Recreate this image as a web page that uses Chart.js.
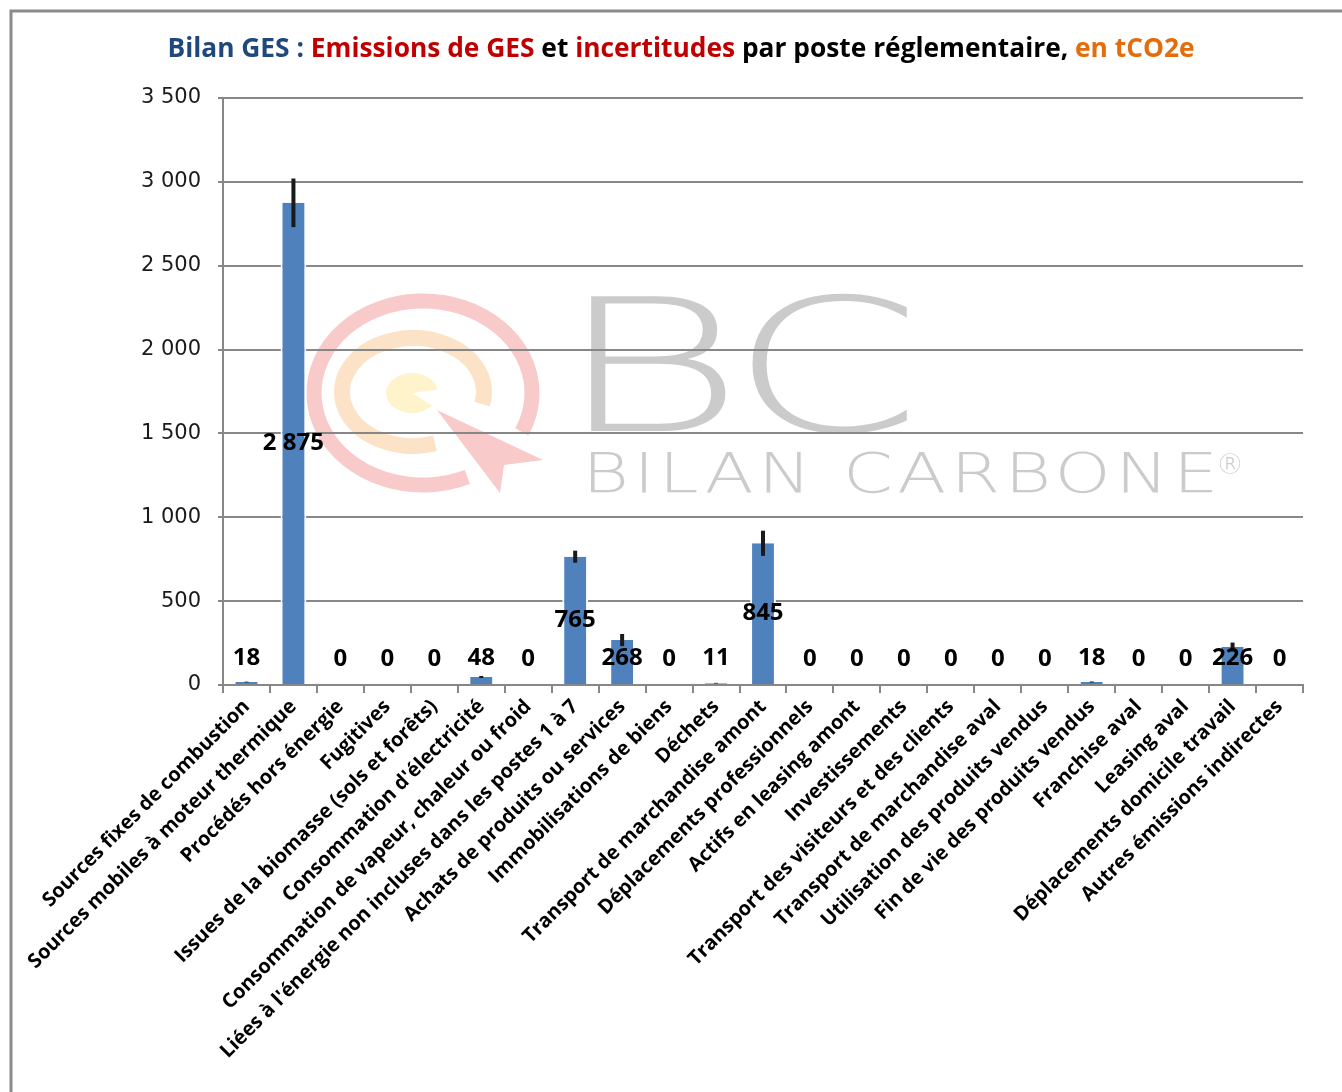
<!DOCTYPE html>
<html>
<head>
<meta charset="utf-8">
<script src="https://cdn.jsdelivr.net/npm/chart.js@4.4.0/dist/chart.umd.min.js"></script>
<style>
  html, body { margin: 0; padding: 0; background: #fff; }
  #wrap { width: 1342px; height: 1092px; position: relative; }
</style>
</head>
<body>
<div id="wrap"><canvas id="ges-chart" width="1342" height="1092"></canvas></div>
<script>
// postes reglementaires
var postes = [
  'Sources fixes de combustion',
  'Sources mobiles à moteur thermique',
  'Procédés hors énergie',
  'Fugitives',
  'Issues de la biomasse (sols et forêts)',
  "Consommation d'électricité",
  'Consommation de vapeur, chaleur ou froid',
  "Liées à l'énergie non incluses dans les postes 1 à 7",
  'Achats de produits ou services',
  'Immobilisations de biens',
  'Déchets',
  'Transport de marchandise amont',
  'Déplacements professionnels',
  'Actifs en leasing amont',
  'Investissements',
  'Transport des visiteurs et des clients',
  'Transport de marchandise aval',
  'Utilisation des produits vendus',
  'Fin de vie des produits vendus',
  'Franchise aval',
  'Leasing aval',
  'Déplacements domicile travail',
  'Autres émissions indirectes'
];
var emissions = [18, 2875, 0, 0, 0, 48, 0, 765, 268, 0, 11, 845, 0, 0, 0, 0, 0, 0, 18, 0, 0, 226, 0];
var incertitudes = [2, 145, 0, 0, 0, 6, 0, 36, 36, 0, 2, 75, 0, 0, 0, 0, 0, 0, 3, 0, 0, 27, 0];
var yTicks = [0, 500, 1000, 1500, 2000, 2500, 3000, 3500];

var titreTextes = ['Bilan GES : ', 'Emissions de GES', ' et ', 'incertitudes', ' par poste réglementaire, ', 'en tCO2e'];
var titreCouleurs = ['#1F497D', '#C00000', '#000000', '#C00000', '#000000', '#E46C0A'];

function fmt(v) {
  return String(v).replace(/\B(?=(\d{3})+(?!\d))/g, ' ');
}

// fond : logo bilan carbone en filigrane
var filigrane = {
  id: 'filigrane',
  beforeDraw: function (chart) {
    var ctx = chart.ctx;
    var d = Math.PI / 180;
    ctx.save();
    ctx.lineCap = 'butt';
    // anneau rouge
    ctx.strokeStyle = '#F8CACA';
    ctx.lineWidth = 15;
    ctx.beginPath();
    ctx.ellipse(423, 393, 109, 92, 0, 66 * d, 385 * d);
    ctx.stroke();
    // anneau orange
    ctx.strokeStyle = '#FCE2C6';
    ctx.lineWidth = 16;
    ctx.beginPath();
    ctx.ellipse(413, 392, 71, 54, 0, 72 * d, 373 * d);
    ctx.stroke();
    // centre jaune
    ctx.fillStyle = '#FFF3CC';
    ctx.beginPath();
    ctx.moveTo(412, 393);
    ctx.ellipse(412, 393, 26, 20, 0, 40 * d, 350 * d);
    ctx.closePath();
    ctx.fill();
    // fleche
    ctx.fillStyle = '#F8CACA';
    ctx.beginPath();
    ctx.moveTo(437, 410);
    ctx.lineTo(543, 460);
    ctx.lineTo(504, 465);
    ctx.lineTo(500, 493);
    ctx.closePath();
    ctx.fill();

    // lettres BC
    ctx.fillStyle = '#CBCBCB';
    ctx.textBaseline = 'alphabetic';
    ctx.textAlign = 'left';
    function fit(txt, left, right, base, font) {
      ctx.font = font;
      var m = ctx.measureText(txt);
      var w = m.actualBoundingBoxLeft + m.actualBoundingBoxRight;
      ctx.save();
      ctx.translate(left, base);
      ctx.scale((right - left) / w, 1);
      ctx.fillText(txt, m.actualBoundingBoxLeft, 0);
      ctx.restore();
    }
    fit('B', 590, 726, 431, "200 185px 'DejaVu Sans'");
    fit('C', 752, 908, 431, "200 185px 'DejaVu Sans'");

    // BILAN CARBONE
    ctx.font = "200 55px 'DejaVu Sans'";
    var txt = 'BILAN CARBONE';
    var sx = 1.3;
    var m = ctx.measureText(txt);
    var w0 = m.actualBoundingBoxLeft + m.actualBoundingBoxRight;
    var sp = (622 / sx - w0) / (txt.length - 1);
    ctx.save();
    ctx.translate(590, 492);
    ctx.scale(sx, 1);
    ctx.letterSpacing = sp + 'px';
    ctx.fillText(txt, m.actualBoundingBoxLeft, 0);
    ctx.restore();
    ctx.font = "200 28px 'DejaVu Sans'";
    ctx.fillText('®', 1216, 474);
    ctx.restore();
  }
};

// barres d'incertitude + etiquettes
var incertitudePlugin = {
  id: 'incertitude',
  afterDatasetsDraw: function (chart) {
    var ctx = chart.ctx;
    var y = chart.scales.y;
    var meta = chart.getDatasetMeta(0);
    ctx.save();
    ctx.strokeStyle = '#1A1A1A';
    ctx.lineWidth = 4;
    meta.data.forEach(function (bar, i) {
      var e = incertitudes[i];
      if (!e) return;
      ctx.beginPath();
      ctx.moveTo(bar.x, y.getPixelForValue(emissions[i] + e));
      ctx.lineTo(bar.x, y.getPixelForValue(emissions[i] - e));
      ctx.stroke();
    });
    ctx.fillStyle = '#000';
    ctx.font = "bold 24px 'Open Sans'";
    ctx.textAlign = 'center';
    ctx.textBaseline = 'middle';
    meta.data.forEach(function (bar, i) {
      var cy = (bar.y + bar.base) / 2;
      cy = Math.min(cy, bar.base - 26);
      ctx.fillText(fmt(emissions[i]), bar.x, cy);
    });
    ctx.restore();
  }
};

// titre multicolore + cadre
var titreCadre = {
  id: 'titreCadre',
  afterDraw: function (chart) {
    var ctx = chart.ctx;
    ctx.save();
    ctx.font = "bold 26px 'Open Sans'";
    ctx.textBaseline = 'alphabetic';
    ctx.textAlign = 'left';
    var total = 0;
    titreTextes.forEach(function (t) { total += ctx.measureText(t).width; });
    var sx = 1027 / total;
    ctx.translate(681 - 1027 / 2, 57);
    ctx.scale(sx, 1);
    var x = 0;
    titreTextes.forEach(function (t, i) {
      ctx.fillStyle = titreCouleurs[i];
      ctx.fillText(t, x, 0);
      x += ctx.measureText(t).width;
    });
    ctx.restore();

    ctx.save();
    ctx.strokeStyle = '#8A8A8A';
    ctx.lineWidth = 3;
    ctx.beginPath();
    ctx.moveTo(11, 1092);
    ctx.lineTo(11, 11);
    ctx.lineTo(1342, 11);
    ctx.stroke();
    ctx.restore();
  }
};

new Chart(document.getElementById('ges-chart'), {
  type: 'bar',
  data: {
    labels: postes,
    datasets: [{
      data: emissions,
      backgroundColor: '#4F81BD',
      borderColor: '#FFFFFF',
      borderWidth: { left: 2, right: 2, top: 0, bottom: 0 },
      barPercentage: 0.55,
      categoryPercentage: 1
    }]
  },
  options: {
    responsive: false,
    animation: false,
    layout: {
      padding: { top: 98, right: 39, left: 0, bottom: 0 }
    },
    plugins: {
      legend: { display: false },
      tooltip: { enabled: false }
    },
    scales: {
      x: {
        offset: true,
        grid: {
          offset: true,
          drawOnChartArea: false,
          color: '#878787',
          lineWidth: 2,
          tickLength: 8
        },
        border: { color: '#878787', width: 2 },
        ticks: {
          autoSkip: false,
          minRotation: 45,
          maxRotation: 45,
          padding: 2,
          color: '#000',
          font: { family: "'Open Sans'", size: 20, weight: '700' }
        },
        afterFit: function (scale) { scale.height = 407; }
      },
      y: {
        min: 0,
        max: 3500,
        afterBuildTicks: function (scale) {
          scale.ticks = yTicks.map(function (v) { return { value: v }; });
        },
        ticks: {
          padding: 17,
          color: '#1A1A1A',
          font: { family: "'DejaVu Sans'", size: 21 },
          callback: function (v) { return fmt(v); }
        },
        grid: { color: '#878787', lineWidth: 2, tickLength: 5 },
        border: { color: '#878787', width: 2 },
        afterFit: function (scale) { scale.width = 223; }
      }
    }
  },
  plugins: [filigrane, incertitudePlugin, titreCadre]
});
</script>
</body>
</html>
